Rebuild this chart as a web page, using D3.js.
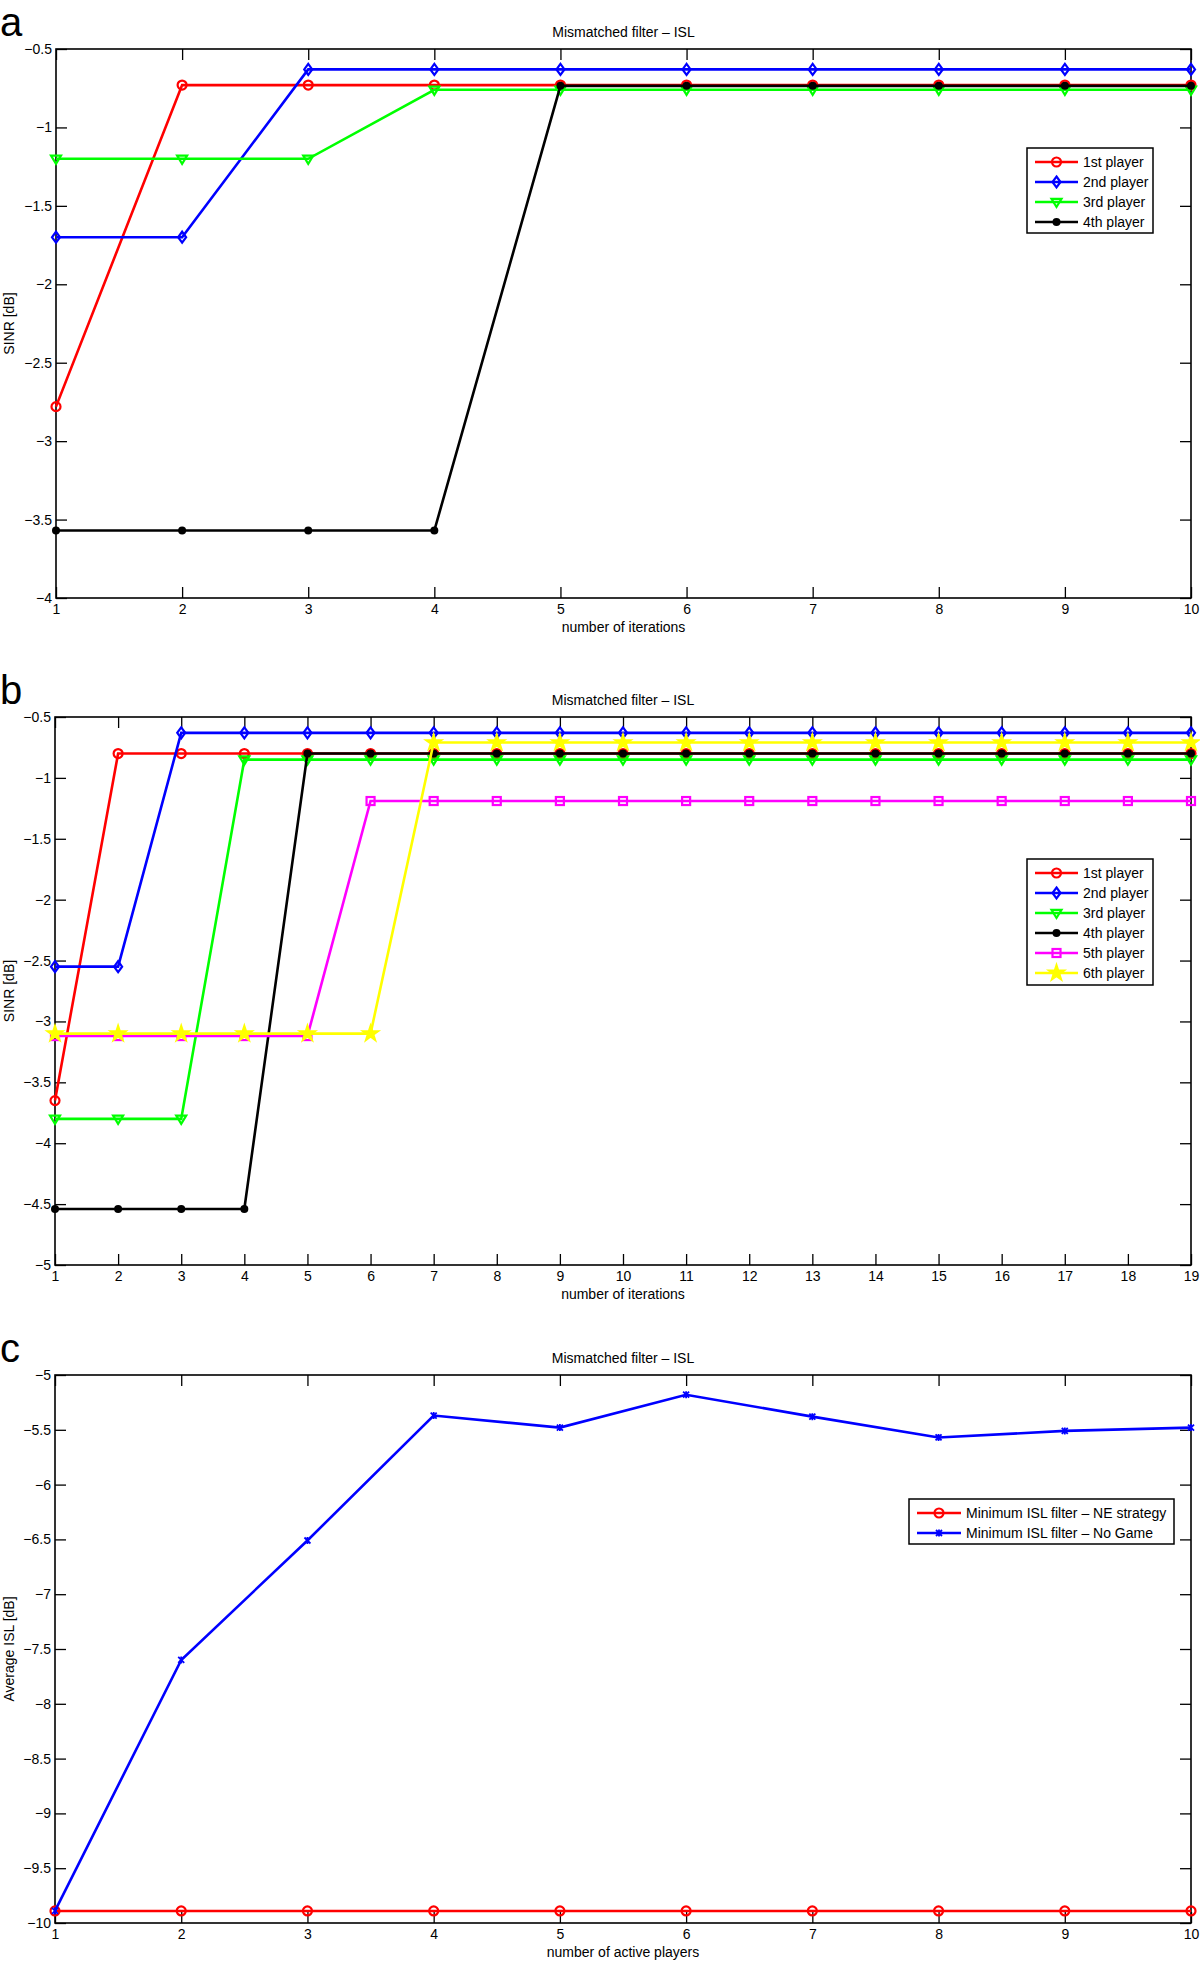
<!DOCTYPE html>
<html>
<head>
<meta charset="utf-8">
<script src="https://cdn.jsdelivr.net/npm/d3@7"></script>
<style>
  body { margin: 0; background: #fff; }
  svg { display: block; font-family: "Liberation Sans", Arial, Helvetica, sans-serif; }
</style>
</head>
<body>
<div id="chart"></div>
<script>
// ---- data ----
const iterA = [1, 2, 3, 4, 5, 6, 7, 8, 9, 10];
const p1A = [-2.78, -0.73, -0.73, -0.73, -0.73, -0.73, -0.73, -0.73, -0.73, -0.73];
const p2A = [-1.70, -1.70, -0.63, -0.63, -0.63, -0.63, -0.63, -0.63, -0.63, -0.63];
const p3A = [-1.20, -1.20, -1.20, -0.76, -0.76, -0.76, -0.76, -0.76, -0.76, -0.76];
const p4A = [-3.57, -3.57, -3.57, -3.57, -0.735, -0.735, -0.735, -0.735, -0.735, -0.735];

const iterB = [1, 2, 3, 4, 5, 6, 7, 8, 9, 10, 11, 12, 13, 14, 15, 16, 17, 18, 19];
const p1B = [-3.65, -0.80, -0.80, -0.80, -0.80, -0.80, -0.80, -0.80, -0.80, -0.80, -0.80, -0.80, -0.80, -0.80, -0.80, -0.80, -0.80, -0.80, -0.80];
const p2B = [-2.55, -2.55, -0.63, -0.63, -0.63, -0.63, -0.63, -0.63, -0.63, -0.63, -0.63, -0.63, -0.63, -0.63, -0.63, -0.63, -0.63, -0.63, -0.63];
const p3B = [-3.80, -3.80, -3.80, -0.85, -0.85, -0.85, -0.85, -0.85, -0.85, -0.85, -0.85, -0.85, -0.85, -0.85, -0.85, -0.85, -0.85, -0.85, -0.85];
const p4B = [-4.54, -4.54, -4.54, -4.54, -0.80, -0.80, -0.80, -0.80, -0.80, -0.80, -0.80, -0.80, -0.80, -0.80, -0.80, -0.80, -0.80, -0.80, -0.80];
const p5B = [-3.12, -3.12, -3.12, -3.12, -3.12, -1.19, -1.19, -1.19, -1.19, -1.19, -1.19, -1.19, -1.19, -1.19, -1.19, -1.19, -1.19, -1.19, -1.19];
const p6B = [-3.10, -3.10, -3.10, -3.10, -3.10, -3.10, -0.71, -0.71, -0.71, -0.71, -0.71, -0.71, -0.71, -0.71, -0.71, -0.71, -0.71, -0.71, -0.71];

const playersC = [1, 2, 3, 4, 5, 6, 7, 8, 9, 10];
const neStrategy = [-9.89, -9.89, -9.89, -9.89, -9.89, -9.89, -9.89, -9.89, -9.89, -9.89];
const noGame = [-9.89, -7.60, -6.51, -5.37, -5.48, -5.18, -5.38, -5.57, -5.51, -5.48];

const yTicksA = [-4, -3.5, -3, -2.5, -2, -1.5, -1, -0.5];
const yTicksB = [-5, -4.5, -4, -3.5, -3, -2.5, -2, -1.5, -1, -0.5];
const yTicksC = [-10, -9.5, -9, -8.5, -8, -7.5, -7, -6.5, -6, -5.5, -5];

const namesA = ["1st player", "2nd player", "3rd player", "4th player"];
const namesB = ["1st player", "2nd player", "3rd player", "4th player", "5th player", "6th player"];
const namesC = ["Minimum ISL filter \u2013 NE strategy", "Minimum ISL filter \u2013 No Game"];

const W = 1200, H = 1962;
const svg = d3.select("#chart").append("svg")
    .attr("width", W).attr("height", H);

// marker drawing (MATLAB style)
function marker(g, type, color) {
    if (type === "o") {
        g.append("circle").attr("r", 4.5).attr("fill", "none").attr("stroke", color).attr("stroke-width", 2.2);
    } else if (type === "d") {
        g.append("path").attr("d", "M0,-5.5L4,0L0,5.5L-4,0Z").attr("fill", "none").attr("stroke", color).attr("stroke-width", 2.2);
    } else if (type === "v") {
        g.append("path").attr("d", "M-5,-3.2L5,-3.2L0,5Z").attr("fill", "none").attr("stroke", color).attr("stroke-width", 2.2);
    } else if (type === ".") {
        g.append("circle").attr("r", 4).attr("fill", color);
    } else if (type === "s") {
        g.append("rect").attr("x", -4).attr("y", -4).attr("width", 8).attr("height", 8)
            .attr("fill", "none").attr("stroke", color).attr("stroke-width", 2.2);
    } else if (type === "p") {
        g.append("path").attr("d", d3.symbol(d3.symbolStar, 85)()).attr("fill", color).attr("stroke", color).attr("stroke-width", 1.5);
    } else if (type === "*") {
        g.append("path").attr("d", "M-3,-3L3,3M-3,3L3,-3M0,-3.5L0,3.5").attr("stroke", color).attr("stroke-width", 1.8);
    }
}

const fmt = d => String(d).replace("-", "\u2212");

function drawPanel(cfg) {
    const x = d3.scaleLinear().domain(cfg.xDomain).range([cfg.left, cfg.right]);
    const y = d3.scaleLinear().domain(cfg.yDomain).range([cfg.bottom, cfg.top]);
    const g = svg.append("g");

    // axes with inward ticks
    g.append("g").attr("transform", `translate(0,${cfg.bottom})`)
        .call(d3.axisBottom(x).tickValues(cfg.xTicks).tickSizeInner(-11).tickSizeOuter(0).tickPadding(6).tickFormat(fmt))
        .call(a => a.select(".domain").remove());
    g.append("g").attr("transform", `translate(0,${cfg.top})`)
        .call(d3.axisTop(x).tickValues(cfg.xTicks).tickSizeInner(-11).tickSizeOuter(0).tickFormat(""))
        .call(a => a.select(".domain").remove());
    g.append("g").attr("transform", `translate(${cfg.left},0)`)
        .call(d3.axisLeft(y).tickValues(cfg.yTicks).tickSizeInner(-11).tickSizeOuter(0).tickPadding(4).tickFormat(fmt))
        .call(a => a.select(".domain").remove());
    g.append("g").attr("transform", `translate(${cfg.right},0)`)
        .call(d3.axisRight(y).tickValues(cfg.yTicks).tickSizeInner(-11).tickSizeOuter(0).tickFormat(""))
        .call(a => a.select(".domain").remove());
    g.selectAll(".tick line").attr("stroke", "#000").attr("stroke-width", 1.3);
    g.selectAll(".tick text").attr("font-size", 14).attr("fill", "#000")
        .attr("font-family", "Liberation Sans, Arial, sans-serif");

    g.append("rect")
        .attr("x", cfg.left).attr("y", cfg.top)
        .attr("width", cfg.right - cfg.left).attr("height", cfg.bottom - cfg.top)
        .attr("fill", "none").attr("stroke", "#000").attr("stroke-width", 1.6);

    // series
    const line = d3.line().x(d => x(d[0])).y(d => y(d[1]));
    cfg.series.forEach(s => {
        const pts = cfg.xs.map((v, i) => [v, s.values[i]]);
        g.append("path").datum(pts).attr("d", line)
            .attr("fill", "none").attr("stroke", s.color).attr("stroke-width", 2.6);
        pts.forEach(p => {
            const m = g.append("g").attr("transform", `translate(${x(p[0])},${y(p[1])})`);
            marker(m, s.marker, s.color);
        });
    });

    // titles
    g.append("text").attr("x", (cfg.left + cfg.right) / 2).attr("y", cfg.top - 12)
        .attr("text-anchor", "middle").attr("font-size", 14).text("Mismatched filter \u2013 ISL");
    g.append("text").attr("x", (cfg.left + cfg.right) / 2).attr("y", cfg.bottom + 34)
        .attr("text-anchor", "middle").attr("font-size", 14).text(cfg.xLabel);
    g.append("text")
        .attr("transform", `translate(14,${(cfg.top + cfg.bottom) / 2}) rotate(-90)`)
        .attr("text-anchor", "middle").attr("font-size", 14).text(cfg.yLabel);
    g.append("text").attr("x", 0).attr("y", cfg.top - 13)
        .attr("font-size", 40).text(cfg.tag);

    // legend
    const L = cfg.legend;
    g.append("rect").attr("x", L.x).attr("y", L.y).attr("width", L.w).attr("height", L.h)
        .attr("fill", "#fff").attr("stroke", "#000").attr("stroke-width", 1.5);
    cfg.series.forEach((s, i) => {
        const yy = L.y + 14 + i * 20;
        g.append("line").attr("x1", L.x + L.lx0).attr("x2", L.x + L.lx1).attr("y1", yy).attr("y2", yy)
            .attr("stroke", s.color).attr("stroke-width", 2.6);
        const m = g.append("g").attr("transform", `translate(${L.x + (L.lx0 + L.lx1) / 2},${yy})`);
        marker(m, s.marker, s.color);
        g.append("text").attr("x", L.x + L.lx1 + 5).attr("y", yy + 5)
            .attr("font-size", 14).text(s.name);
    });
}

drawPanel({
    tag: "a", left: 56, right: 1191, top: 49, bottom: 598,
    xDomain: [1, 10], yDomain: [-4, -0.5], xTicks: iterA, yTicks: yTicksA, xs: iterA,
    xLabel: "number of iterations", yLabel: "SINR [dB]",
    series: [
        { name: namesA[0], values: p1A, color: "#ff0000", marker: "o" },
        { name: namesA[1], values: p2A, color: "#0000ff", marker: "d" },
        { name: namesA[2], values: p3A, color: "#00ff00", marker: "v" },
        { name: namesA[3], values: p4A, color: "#000000", marker: "." }
    ],
    legend: { x: 1027, y: 148, w: 126, h: 85, lx0: 8, lx1: 51 }
});

drawPanel({
    tag: "b", left: 55, right: 1191, top: 717, bottom: 1265,
    xDomain: [1, 19], yDomain: [-5, -0.5], xTicks: iterB, yTicks: yTicksB, xs: iterB,
    xLabel: "number of iterations", yLabel: "SINR [dB]",
    series: [
        { name: namesB[0], values: p1B, color: "#ff0000", marker: "o" },
        { name: namesB[1], values: p2B, color: "#0000ff", marker: "d" },
        { name: namesB[2], values: p3B, color: "#00ff00", marker: "v" },
        { name: namesB[3], values: p4B, color: "#000000", marker: "." },
        { name: namesB[4], values: p5B, color: "#ff00ff", marker: "s" },
        { name: namesB[5], values: p6B, color: "#ffff00", marker: "p" }
    ],
    legend: { x: 1027, y: 859, w: 126, h: 126, lx0: 8, lx1: 51 }
});

drawPanel({
    tag: "c", left: 55, right: 1191, top: 1375, bottom: 1923,
    xDomain: [1, 10], yDomain: [-10, -5], xTicks: playersC, yTicks: yTicksC, xs: playersC,
    xLabel: "number of active players", yLabel: "Average ISL [dB]",
    series: [
        { name: namesC[0], values: neStrategy, color: "#ff0000", marker: "o" },
        { name: namesC[1], values: noGame, color: "#0000ff", marker: "*" }
    ],
    legend: { x: 909, y: 1499, w: 265, h: 45, lx0: 8, lx1: 52 }
});
</script>
</body>
</html>
